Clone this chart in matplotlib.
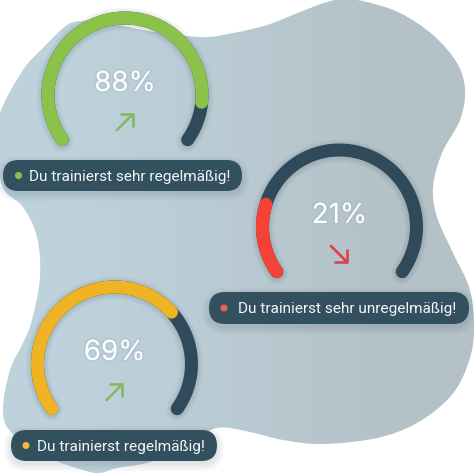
import numpy as np
import matplotlib
matplotlib.use('Agg')
import matplotlib.pyplot as plt
from matplotlib.path import Path
from matplotlib.patches import PathPatch, FancyBboxPatch, Circle
import matplotlib.patheffects as pe

plt.rcParams['font.family'] = ['Inter', 'DejaVu Sans']

# gauge data
werte = [88, 21, 69]
labels = ['Du trainierst sehr regelmäßig!', 'Du trainierst sehr unregelmäßig!', 'Du trainierst regelmäßig!']
farben = ['#8bc34a', '#f44336', '#f0b323']
punkt_farben = ['#8bc34a', '#e8634a', '#f0b83c']
pfeil_farben = ['#86b766', '#e0404a', '#86b766']
pfeil_hoch = [True, False, True]

# layout, in pixels of the 474x474 picture
mitten = [(125, 95), (339.5, 227), (114.5, 364)]
pillen = [(3, 160, 242, 191), (209, 292, 469, 324), (11, 430, 217, 461)]
text_x = [29, 238, 37]
punkt_x = [18.5, 224, 26]
prozent_y = [84, 216, 353]
pfeil_mitte = [(125.5, 121.5), (339.5, 254.5), (115, 391.5)]

RADIUS = 77
BREITE = 13
START = 215.5
SWEEP = 251
DUNKEL = '#2f4a5b'
PILLE = '#33505f'

# outline of the background blob
blob = np.array([
    (200, 37), (233, 33), (267, 25), (300, 12), (327, 2), (345, -1), (367, 2), (400, 13),
    (433, 35), (457, 63), (465, 90), (460, 120), (442, 153), (433, 187), (437, 217),
    (453, 253), (470, 290), (474, 333), (467, 367), (450, 397), (417, 423), (377, 438),
    (323, 444), (283, 440), (250, 432), (217, 428), (185, 445), (150, 462), (117, 468),
    (100, 473), (83, 470), (50, 458), (12, 433), (3, 410), (10, 370), (23, 343), (32, 320),
    (40, 277), (37, 237), (23, 207), (3, 188), (-3, 150), (0, 113), (23, 70), (43, 48),
    (67, 25), (83, 21), (100, 21), (143, 30),
], dtype=float)


def blob_pfad(pts):
    # closed catmull-rom turned into bezier segments
    n = len(pts)
    verts = [pts[0]]
    codes = [Path.MOVETO]
    for i in range(n):
        p0, p1, p2, p3 = pts[i - 1], pts[i], pts[(i + 1) % n], pts[(i + 2) % n]
        verts += [p1 + (p2 - p0) / 6, p2 - (p3 - p1) / 6, p2]
        codes += [Path.CURVE4] * 3
    return Path(verts, codes)


def bogen(mitte, von, bis):
    a = np.radians(np.linspace(START - SWEEP * von, START - SWEEP * bis, 150))
    return mitte[0] + RADIUS * np.cos(a), mitte[1] - RADIUS * np.sin(a)


def pille(ax, x0, y0, x1, y1, farbe, alpha, z, extra=0):
    r = (y1 - y0) / 2 + extra
    ax.add_patch(FancyBboxPatch((x0 + r - extra, y0 + r - extra), x1 - x0 - 2 * r + 2 * extra, 0,
                                boxstyle='round,pad=%f,rounding_size=%f' % (r, r), lw=0,
                                facecolor=farbe, alpha=alpha, zorder=z))


fig = plt.figure(figsize=(4.74, 4.74), dpi=100)
ax = fig.add_axes([0, 0, 1, 1])
ax.axis('off')

# blob with a soft left to right gradient
patch = PathPatch(blob_pfad(blob), facecolor='none', edgecolor='none')
ax.add_patch(patch)
verlauf = np.array([[[0xbe, 0xd2, 0xdc], [0xb9, 0xca, 0xd2], [0xb4, 0xc1, 0xc7]]]) / 255
bild = ax.imshow(verlauf, extent=(0, 474, 474, 0), aspect='auto', interpolation='bilinear', zorder=1)
bild.set_clip_path(patch)
ax.set_xlim(0, 474)
ax.set_ylim(474, 0)

for i, wert in enumerate(werte):
    m = mitten[i]
    x, y = bogen(m, 0, 1)
    for extra in [10, 8, 6, 4, 2]:
        ax.plot(x, y + 1, color='#1f3440', lw=(BREITE + extra) * 0.72, alpha=0.022,
                solid_capstyle='round', zorder=2)
    ax.plot(x, y, color=DUNKEL, lw=BREITE * 0.72, solid_capstyle='round', zorder=3)
    x, y = bogen(m, 0, wert / 100)
    ax.plot(x, y, color=farben[i], lw=BREITE * 0.72, solid_capstyle='round', zorder=4)

    ax.text(m[0], prozent_y[i], f'{wert}%', color='white', fontsize=20, ha='center', va='center',
            zorder=5, path_effects=[pe.withStroke(linewidth=2.5, foreground='#9fb3bd', alpha=0.3)])

    # trend arrow
    px, py = pfeil_mitte[i]
    d = 8.5
    if pfeil_hoch[i]:
        start, ziel = (px - d, py + d), (px + d, py - d)
    else:
        start, ziel = (px - d, py - d), (px + d, py + d)
    ax.annotate('', xy=ziel, xytext=start, zorder=5,
                arrowprops=dict(arrowstyle='->,head_length=0.61,head_width=0.61', color=pfeil_farben[i],
                                lw=1.9, shrinkA=0, shrinkB=0))

    # label pill with shadow
    x0, y0, x1, y1 = pillen[i]
    for extra in [7, 5, 3, 1]:
        pille(ax, x0, y0 + 3, x1, y1 + 3, '#1f3440', 0.03, 6, extra)
    pille(ax, x0, y0, x1, y1, PILLE, 1, 7)
    ym = (y0 + y1) / 2
    ax.add_patch(Circle((punkt_x[i], ym), 3.5, facecolor=punkt_farben[i], edgecolor='none', zorder=8))
    ax.text(text_x[i], ym, labels[i], color='#f2f6f7', fontsize=11.1, family=['Roboto', 'DejaVu Sans'],
            ha='left', va='center_baseline', zorder=8)

fig.savefig('out.png', dpi=100)
